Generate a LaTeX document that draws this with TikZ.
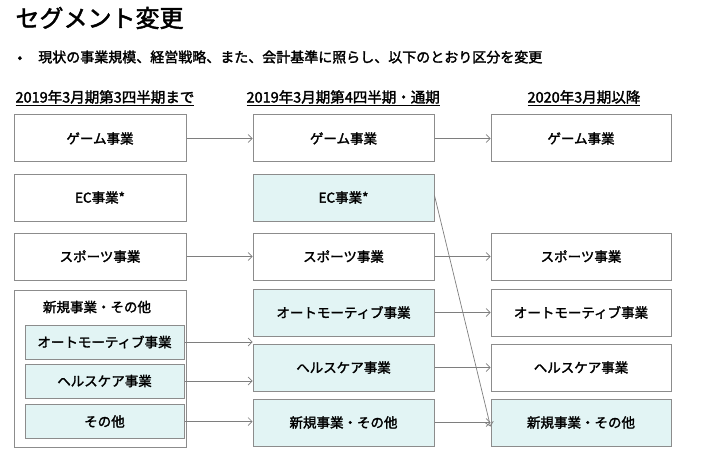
\documentclass[tikz,border=0pt]{standalone}
\usepackage{fontspec}
\setmainfont{Noto Sans CJK JP}
\newfontfamily\jpb{Noto Sans CJK JP}[FakeBold=2]
\usetikzlibrary{arrows.meta}
\definecolor{fillc}{HTML}{E2F4F4}
\definecolor{edgec}{HTML}{8C8C8C}
\begin{document}
\begin{tikzpicture}[x=1pt,y=-1pt,
 box/.style={draw=edgec,line width=1pt,minimum height=47pt,inner sep=0pt,font=\jpb\fontsize{13.5}{15}\selectfont},
 sbox/.style={draw=edgec,line width=1pt,minimum width=159pt,minimum height=34pt,inner sep=0pt,fill=fillc,font=\jpb\fontsize{13.5}{15}\selectfont},
 cf/.style={fill=fillc},
 arr/.style={draw=edgec!90!black,line width=0.7pt,-{Straight Barb[length=4pt,width=8pt]}},
 hd/.style={anchor=west,font=\jpb\fontsize{14.5}{16}\selectfont}]
\useasboundingbox (0,0) rectangle (703,457);
\node[anchor=west,font=\jpb\fontsize{24}{26}\selectfont] (title) at (12,18) {セグメント変更};
\node[anchor=west,font=\jpb\fontsize{14}{16}\selectfont] (bul) at (14,57) {•\hspace{16pt}現状の事業規模、経営戦略、また、会計基準に照らし、以下のとおり区分を変更};
\node[hd] (h1) at (12,98) {\underline{2019年3月期第3四半期まで}};
\node[hd] (h2) at (243,98) {\underline{2019年3月期第4四半期・通期}};
\node[hd] (h3) at (524,98) {\underline{2020年3月期以降}};
% left
\node[box,minimum width=172pt] (l1) at (100,138.5) {ゲーム事業};
\node[box,minimum width=172pt] (l2) at (100,197.5) {EC事業*};
\node[box,minimum width=172pt] (l3) at (100,256.5) {スポーツ事業};
\node[draw=edgec,line width=1pt,minimum width=172pt,minimum height=157pt,inner sep=0pt] (grp) at (100,368.5) {};
\node[font=\jpb\fontsize{13.5}{15}\selectfont] (gl) at (97,307) {新規事業・その他};
\node[sbox] (la) at (104.5,342) {オートモーティブ事業};
\node[sbox] (lh) at (104.5,381) {ヘルスケア事業};
\node[sbox] (lo) at (104.5,421.5) {その他};
% middle
\node[box,minimum width=181pt] (m1) at (343.5,138.5) {ゲーム事業};
\node[box,minimum width=181pt,cf] (m2) at (343.5,197.5) {EC事業*};
\node[box,minimum width=181pt] (m3) at (343.5,256.5) {スポーツ事業};
\node[box,minimum width=181pt,cf] (ma) at (343.5,312.5) {オートモーティブ事業};
\node[box,minimum width=181pt,cf] (mh) at (343.5,367.5) {ヘルスケア事業};
\node[box,minimum width=181pt,cf] (mn) at (343.5,422.5) {新規事業・その他};
% right
\node[box,minimum width=180pt] (r1) at (581,138.5) {ゲーム事業};
\node[box,minimum width=180pt] (r3) at (581,256.5) {スポーツ事業};
\node[box,minimum width=180pt] (ra) at (581,312.5) {オートモーティブ事業};
\node[box,minimum width=180pt] (rh) at (581,367.5) {ヘルスケア事業};
\node[box,minimum width=180pt,cf] (rn) at (581,422.5) {新規事業・その他};
% arrows
\draw[arr] (l1) -- (m1);
\draw[arr] (l3) -- (m3);
\draw[arr] (la.east) -- (ma.west |- la.east);
\draw[arr] (lh.east) -- (mh.west |- lh.east);
\draw[arr] (lo.east) -- (mn.west |- lo.east);
\draw[arr] (m1) -- (r1);
\draw[arr] (m3) -- (r3);
\draw[arr] (ma) -- (ra);
\draw[arr] (mh) -- (rh);
\draw[arr] (mn) -- (rn);
\draw[arr] ([yshift=2pt]m2.east) -- ([yshift=-4pt]rn.west);
\end{tikzpicture}
\end{document}
